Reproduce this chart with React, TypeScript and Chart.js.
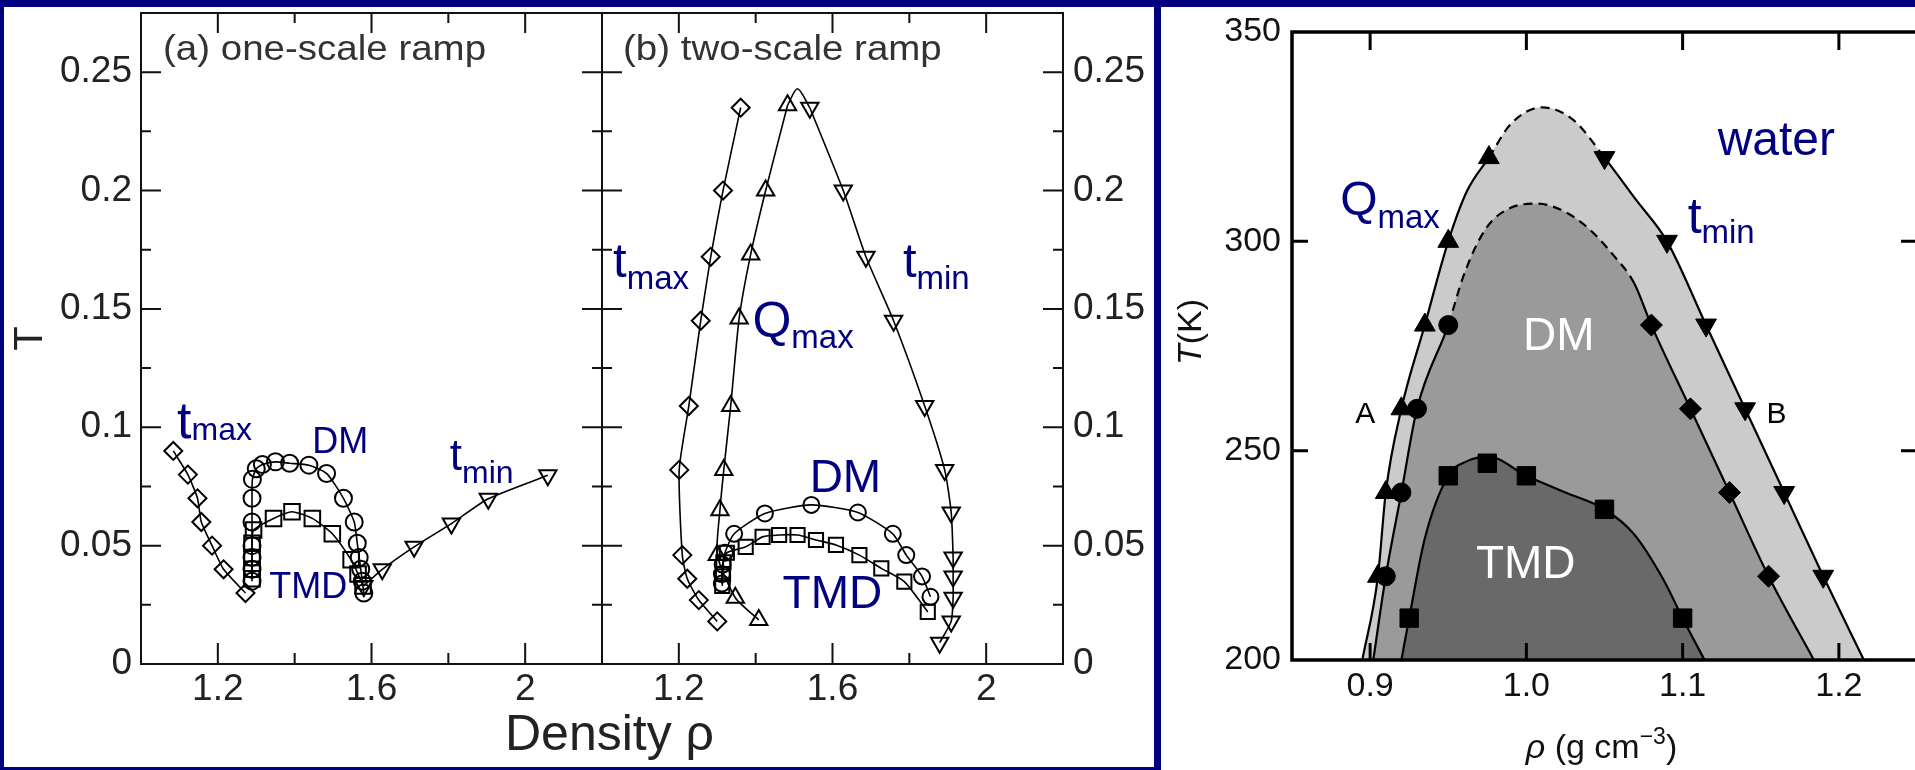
import React, { useEffect, useRef } from 'react';
import { Chart, registerables } from 'chart.js';
Chart.register(...registerables);

const NAVY = '#000080';
const FONT = "'Liberation Sans', Arial, Helvetica, sans-serif";
Chart.defaults.font.family = FONT;

// ---------- (a) one-scale ramp ----------
const A_TMAX_RHO = [1.084, 1.122, 1.147, 1.157, 1.185, 1.215, 1.272];
const A_TMAX_T = [0.090, 0.080, 0.070, 0.060, 0.050, 0.040, 0.030];
const A_TMIN_RHO = [1.580, 1.628, 1.711, 1.808, 1.904, 2.059];
const A_TMIN_T = [0.033, 0.040, 0.0495, 0.0593, 0.0698, 0.0797];
const A_DM_RHO = [1.289, 1.289, 1.289, 1.289, 1.289, 1.289, 1.290, 1.300, 1.316, 1.350, 1.387, 1.437, 1.483, 1.527, 1.555, 1.563, 1.568, 1.572, 1.576, 1.580];
const A_DM_T = [0.035, 0.040, 0.045, 0.050, 0.060, 0.070, 0.078, 0.0825, 0.0843, 0.0854, 0.0848, 0.0840, 0.0805, 0.070, 0.060, 0.051, 0.045, 0.040, 0.035, 0.030];
const A_TMD_RHO = [1.289, 1.289, 1.289, 1.289, 1.293, 1.345, 1.393, 1.446, 1.498, 1.547, 1.565, 1.578];
const A_TMD_T = [0.036, 0.040, 0.045, 0.051, 0.0566, 0.0615, 0.0643, 0.0615, 0.055, 0.044, 0.038, 0.033];

// ---------- (b) two-scale ramp ----------
const B_TMAX_RHO = [1.361, 1.315, 1.283, 1.257, 1.226, 1.201, 1.209, 1.222, 1.252, 1.300];
const B_TMAX_T = [0.235, 0.200, 0.172, 0.145, 0.109, 0.082, 0.046, 0.036, 0.027, 0.018];
const B_QMAX_RHO = [1.483, 1.426, 1.387, 1.357, 1.335, 1.317, 1.307, 1.300, 1.347, 1.408];
const B_QMAX_T = [0.236, 0.200, 0.173, 0.146, 0.109, 0.082, 0.065, 0.046, 0.028, 0.0186];
const B_TMIN_RHO = [1.541, 1.628, 1.687, 1.759, 1.840, 1.892, 1.909, 1.914, 1.914, 1.914, 1.909, 1.879];
const B_TMIN_T = [0.235, 0.200, 0.172, 0.145, 0.109, 0.082, 0.064, 0.045, 0.037, 0.028, 0.018, 0.009];
const B_PEAK_RHO = [1.483, 1.509, 1.541];
const B_PEAK_T = [0.236, 0.243, 0.235];
const B_DM_RHO = [1.312, 1.312, 1.314, 1.320, 1.344, 1.424, 1.545, 1.666, 1.757, 1.792, 1.833, 1.855];
const B_DM_T = [0.034, 0.038, 0.042, 0.047, 0.055, 0.0636, 0.0672, 0.064, 0.055, 0.046, 0.037, 0.0284];
const B_TMD_RHO = [1.313, 1.315, 1.316, 1.325, 1.374, 1.418, 1.461, 1.509, 1.557, 1.609, 1.670, 1.727, 1.787, 1.848];
const B_TMD_T = [0.033, 0.038, 0.043, 0.047, 0.0495, 0.0537, 0.0545, 0.0545, 0.0524, 0.0503, 0.046, 0.0404, 0.0348, 0.022];

const RAMP_X_TICKS = [1.2, 1.6, 2.0];
const RAMP_X_MINOR = [1.4, 1.8];
const RAMP_Y_TICKS = [0, 0.05, 0.1, 0.15, 0.2, 0.25];
const RAMP_Y_MINOR = [0.025, 0.075, 0.125, 0.175, 0.225];

// ---------- water ----------
const W_QMAX_RHO = [0.905, 0.910, 0.920, 0.935, 0.950, 0.976];
const W_QMAX_T = [220, 240, 260, 280, 300, 320];
const W_DML_RHO = [0.910, 0.920, 0.930, 0.950];
const W_DML_T = [220, 240, 260, 280];
const W_DMR_RHO = [1.155, 1.130, 1.105, 1.080];
const W_DMR_T = [220, 240, 260, 280];
const W_TMIN_RHO = [1.050, 1.090, 1.115, 1.140, 1.165, 1.190];
const W_TMIN_T = [320, 300, 280, 260, 240, 220];
const W_TMD_RHO = [0.925, 0.950, 0.975, 1.000, 1.050, 1.100];
const W_TMD_T = [210, 244, 247, 244, 236, 210];
const W_OUTER_RHO = [0.895, 0.905, 0.910, 0.920, 0.935, 0.950, 0.962, 0.976, 0.990, 1.010, 1.030, 1.050, 1.070, 1.090, 1.115, 1.140, 1.165, 1.190, 1.216];
const W_OUTER_T = [200, 220, 240, 260, 280, 300, 312, 320, 328, 332, 329, 320, 310, 300, 280, 260, 240, 220, 200];
const W_DMC_RHO = [0.902, 0.910, 0.920, 0.930, 0.950, 0.960, 0.974, 0.990, 1.007, 1.025, 1.040, 1.055, 1.069, 1.080, 1.105, 1.130, 1.155, 1.184];
const W_DMC_T = [200, 220, 240, 260, 280, 292, 303, 308, 309, 307, 303, 297, 290, 280, 260, 240, 220, 200];
const W_TMDC_RHO = [0.920, 0.925, 0.935, 0.950, 0.962, 0.976, 1.000, 1.025, 1.050, 1.069, 1.088, 1.100, 1.114];
const W_TMDC_T = [200, 210, 229, 244, 247.5, 248.5, 244, 240, 236, 230, 219, 210, 200];

const W_X_TICKS = [0.9, 1.0, 1.1, 1.2];
const W_Y_TICKS = [200, 250, 300, 350];
const W_Y_INNER = [250, 300];

// ---------- annotation styles / positions (data coords) ----------
type Lbl = { main: string; sub?: string; x: number; y: number; size: number; subSize?: number; subDy?: number; color: string };
const A_LABELS: Lbl[] = [
  { main: 't', sub: 'max', x: 1.094, y: 0.0954, size: 52, subSize: 32, subDy: 2, color: NAVY },
  { main: 'DM', x: 1.446, y: 0.0891, size: 36, color: NAVY },
  { main: 't', sub: 'min', x: 1.804, y: 0.0819, size: 44, subSize: 32, subDy: 13, color: NAVY },
  { main: 'TMD', x: 1.334, y: 0.0279, size: 36, color: NAVY },
];
const B_LABELS: Lbl[] = [
  { main: 't', sub: 'max', x: 1.0287, y: 0.1634, size: 49, subSize: 33, subDy: 12, color: NAVY },
  { main: 'Q', sub: 'max', x: 1.3916, y: 0.1381, size: 50, subSize: 33, subDy: 11, color: NAVY },
  { main: 't', sub: 'min', x: 1.7833, y: 0.1634, size: 49, subSize: 33, subDy: 12, color: NAVY },
  { main: 'DM', x: 1.5405, y: 0.0726, size: 46, color: NAVY },
  { main: 'TMD', x: 1.470, y: 0.0236, size: 46, color: NAVY },
];
const W_LABELS: Lbl[] = [
  { main: 'water', x: 1.1224, y: 320.6, size: 48, color: NAVY },
  { main: 'Q', sub: 'max', x: 0.8808, y: 306.3, size: 48, subSize: 33, subDy: 13, color: NAVY },
  { main: 't', sub: 'min', x: 1.1032, y: 302.0, size: 50, subSize: 33, subDy: 10, color: NAVY },
  { main: 'DM', x: 0.9978, y: 274.1, size: 46, color: '#ffffff' },
  { main: 'TMD', x: 0.9677, y: 219.6, size: 46, color: '#ffffff' },
  { main: 'A', x: 0.8904, y: 256.6, size: 30, color: '#000000' },
  { main: 'B', x: 1.1537, y: 256.6, size: 30, color: '#000000' },
];

const pts = (xs: number[], ys: number[]) => xs.map((x, i) => ({ x, y: ys[i] }));

function drawLabels(chart: any, list: Lbl[]) {
  const { ctx, scales } = chart;
  ctx.save();
  ctx.textBaseline = 'alphabetic';
  ctx.textAlign = 'left';
  for (const l of list) {
    const px = scales.x.getPixelForValue(l.x);
    const py = scales.y.getPixelForValue(l.y);
    ctx.fillStyle = l.color;
    ctx.font = `${l.size}px ${FONT}`;
    ctx.fillText(l.main, px, py);
    if (l.sub) {
      const w = ctx.measureText(l.main).width;
      ctx.font = `${l.subSize}px ${FONT}`;
      ctx.fillText(l.sub, px + w, py + (l.subDy || 0));
    }
  }
  ctx.restore();
}

function drawStretched(ctx: any, text: string, x: number, y: number, font: string, sx: number, color: string) {
  ctx.save();
  ctx.font = font;
  ctx.fillStyle = color;
  ctx.textBaseline = 'alphabetic';
  ctx.translate(x, y);
  ctx.scale(sx, 1);
  ctx.fillText(text, 0, 0);
  ctx.restore();
}

function rampFramePlugin(extra: (chart: any) => void) {
  return {
    id: 'rampFrame',
    afterDraw(chart: any) {
      const { ctx, chartArea: ca, scales } = chart;
      const xs = scales.x, ys = scales.y;
      ctx.save();
      ctx.strokeStyle = '#111';
      ctx.lineWidth = 2;
      ctx.strokeRect(ca.left, ca.top, ca.width, ca.height);
      ctx.beginPath();
      const seg = (x1: number, y1: number, x2: number, y2: number) => { ctx.moveTo(x1, y1); ctx.lineTo(x2, y2); };
      RAMP_X_TICKS.forEach(v => { const p = xs.getPixelForValue(v); seg(p, ca.bottom, p, ca.bottom - 21); seg(p, ca.top, p, ca.top + 20); });
      RAMP_X_MINOR.forEach(v => { const p = xs.getPixelForValue(v); seg(p, ca.bottom, p, ca.bottom - 11); seg(p, ca.top, p, ca.top + 10); });
      RAMP_Y_TICKS.forEach(v => { const p = ys.getPixelForValue(v); seg(ca.left, p, ca.left + 20, p); seg(ca.right, p, ca.right - 20, p); });
      RAMP_Y_MINOR.forEach(v => { const p = ys.getPixelForValue(v); seg(ca.left, p, ca.left + 10, p); seg(ca.right, p, ca.right - 10, p); });
      ctx.stroke();
      ctx.restore();
      extra(chart);
    },
  };
}

const openSeries = (data: any[], style: string, radius: number, rotation = 0) => ({
  data,
  showLine: true,
  tension: 0.2,
  borderColor: '#000',
  borderWidth: 1.6,
  pointStyle: style,
  pointRadius: radius,
  pointRotation: rotation,
  pointBorderColor: '#000',
  pointBorderWidth: 2,
  pointBackgroundColor: 'rgba(0,0,0,0)',
});

const noPadX = (h: number) => (s: any) => { s.height = h; s.paddingLeft = 0; s.paddingRight = 0; };
const noPadY = (w: number) => (s: any) => { s.width = w; s.paddingTop = 0; s.paddingBottom = 0; };

function rampScales(yPos: 'left' | 'right', yWidth: number) {
  return {
    x: {
      type: 'linear', min: 1.0, max: 2.2,
      afterBuildTicks: (s: any) => { s.ticks = RAMP_X_TICKS.map(v => ({ value: v })); },
      afterFit: noPadX(103),
      grid: { display: false, drawTicks: false }, border: { display: false },
      ticks: { font: { size: 37 }, color: '#222', padding: 4, callback: (v: any) => String(v), maxRotation: 0, autoSkip: false },
    },
    y: {
      type: 'linear', position: yPos, min: 0, max: 0.275,
      afterBuildTicks: (s: any) => { s.ticks = RAMP_Y_TICKS.map(v => ({ value: v })); },
      afterFit: noPadY(yWidth),
      grid: { display: false, drawTicks: false }, border: { display: false },
      ticks: { font: { size: 37 }, color: '#222', padding: yPos === 'left' ? 9 : 10, callback: (v: any) => String(v), autoSkip: false },
    },
  };
}

const baseOpts = {
  responsive: false,
  animation: false,
  events: [],
  plugins: { legend: { display: false }, tooltip: { enabled: false } },
};

export default function App() {
  const aRef = useRef<HTMLCanvasElement>(null);
  const bRef = useRef<HTMLCanvasElement>(null);
  const wRef = useRef<HTMLCanvasElement>(null);

  useEffect(() => {
    const chartA = new Chart(aRef.current as HTMLCanvasElement, {
      type: 'scatter',
      data: {
        datasets: [
          openSeries(pts(A_TMAX_RHO, A_TMAX_T), 'rectRot', 9),
          openSeries(pts(A_TMIN_RHO, A_TMIN_T), 'triangle', 10, 180),
          openSeries(pts(A_DM_RHO, A_DM_T), 'circle', 8.5),
          openSeries(pts(A_TMD_RHO, A_TMD_T), 'rect', 11),
        ] as any,
      },
      options: {
        ...baseOpts,
        layout: { autoPadding: false, padding: { top: 6, right: 552, left: 0, bottom: 0 } },
        scales: rampScales('left', 137) as any,
      } as any,
      plugins: [rampFramePlugin((chart: any) => {
        const { ctx, chartArea: ca } = chart;
        drawLabels(chart, A_LABELS);
        drawStretched(ctx, '(a) one-scale ramp', ca.left + 22, ca.top + 47, `35px ${FONT}`, 1.1, '#333');
        ctx.save();
        ctx.translate(27, (ca.top + ca.bottom) / 2);
        ctx.rotate(-Math.PI / 2);
        ctx.textAlign = 'center';
        ctx.textBaseline = 'middle';
        ctx.fillStyle = '#222';
        ctx.font = `40px ${FONT}`;
        ctx.fillText('T', 0, 0);
        ctx.restore();
      })],
    });

    const chartB = new Chart(bRef.current as HTMLCanvasElement, {
      type: 'scatter',
      data: {
        datasets: [
          { data: pts(B_PEAK_RHO, B_PEAK_T), showLine: true, tension: 0.3, borderColor: '#000', borderWidth: 1.6, pointRadius: 0 },
          openSeries(pts(B_TMAX_RHO, B_TMAX_T), 'rectRot', 9),
          openSeries(pts(B_QMAX_RHO, B_QMAX_T), 'triangle', 10),
          openSeries(pts(B_TMIN_RHO, B_TMIN_T), 'triangle', 10, 180),
          openSeries(pts(B_DM_RHO, B_DM_T), 'circle', 8),
          openSeries(pts(B_TMD_RHO, B_TMD_T), 'rect', 10),
        ] as any,
      },
      options: {
        ...baseOpts,
        layout: { autoPadding: false, padding: { top: 6, right: 0, left: 598, bottom: 0 } },
        scales: rampScales('right', 91) as any,
      } as any,
      plugins: [rampFramePlugin((chart: any) => {
        const { ctx, chartArea: ca } = chart;
        drawLabels(chart, B_LABELS);
        drawStretched(ctx, '(b) two-scale ramp', ca.left + 21, ca.top + 47, `35px ${FONT}`, 1.1, '#333');
        ctx.save();
        ctx.fillStyle = '#222';
        ctx.font = `50px ${FONT}`;
        ctx.textAlign = 'center';
        ctx.textBaseline = 'alphabetic';
        ctx.fillText('Density \u03c1', ca.left + 7.5, ca.bottom + 86);
        ctx.restore();
      })],
    });

    const dashSeg = (lo: number, hi: number) => ({
      borderDash: (c: any) => (c.p0.parsed.x >= lo - 1e-9 && c.p1.parsed.x <= hi + 1e-9 ? [9, 6] : undefined),
    });
    const area = (data: any[], fillColor: string, order: number) => ({
      type: 'line',
      data,
      order,
      borderWidth: 0,
      borderColor: 'rgba(0,0,0,0)',
      backgroundColor: fillColor,
      fill: 'start',
      pointRadius: 0,
      cubicInterpolationMode: 'monotone',
    });
    const edge = (data: any[], order: number, dash?: [number, number]) => ({
      type: 'line',
      data,
      order,
      borderColor: '#000',
      borderWidth: 2.2,
      fill: false,
      pointRadius: 0,
      cubicInterpolationMode: 'monotone',
      segment: dash ? dashSeg(dash[0], dash[1]) : undefined,
    });
    const solid = (data: any[], style: string, radius: number, rotation = 0) => ({
      type: 'scatter',
      data,
      order: 0,
      showLine: false,
      pointStyle: style,
      pointRadius: radius,
      pointRotation: rotation,
      pointBackgroundColor: '#000',
      pointBorderColor: '#000',
      pointBorderWidth: 1,
    });

    const outer = pts(W_OUTER_RHO, W_OUTER_T);
    const dmc = pts(W_DMC_RHO, W_DMC_T);
    const tmdc = pts(W_TMDC_RHO, W_TMDC_T);

    const chartW = new Chart(wRef.current as HTMLCanvasElement, {
      type: 'line',
      data: {
        datasets: [
          area(outer, '#cbcbcb', 7),
          edge(outer, 6, [0.976, 1.05]),
          area(dmc, '#9a9a9a', 5),
          edge(dmc, 4, [0.95, 1.069]),
          area(tmdc, '#696969', 3),
          edge(tmdc, 2),
          solid(pts(W_QMAX_RHO, W_QMAX_T), 'triangle', 12),
          solid(pts(W_TMIN_RHO, W_TMIN_T), 'triangle', 12, 180),
          solid(pts(W_DML_RHO, W_DML_T), 'circle', 9.5),
          solid(pts(W_DMR_RHO, W_DMR_T), 'rectRot', 11),
          solid(pts(W_TMD_RHO, W_TMD_T), 'rect', 13),
        ] as any,
      },
      options: {
        ...baseOpts,
        layout: { autoPadding: false, padding: { top: 25, right: 14, left: 0, bottom: 0 } },
        scales: {
          x: {
            type: 'linear', min: 0.85, max: 1.25,
            afterBuildTicks: (s: any) => { s.ticks = W_X_TICKS.map(v => ({ value: v })); },
            afterFit: noPadX(110),
            grid: { display: false, drawTicks: false }, border: { display: false },
            ticks: { font: { size: 34 }, color: '#111', padding: 6, callback: (v: any) => Number(v).toFixed(1), maxRotation: 0, autoSkip: false },
          },
          y: {
            type: 'linear', min: 200, max: 350,
            afterBuildTicks: (s: any) => { s.ticks = W_Y_TICKS.map(v => ({ value: v })); },
            afterFit: noPadY(131),
            grid: { display: false, drawTicks: false }, border: { display: false },
            ticks: { font: { size: 34 }, color: '#111', padding: 11, callback: (v: any) => String(v), autoSkip: false },
          },
        },
      } as any,
      plugins: [{
        id: 'waterFrame',
        afterDraw(chart: any) {
          const { ctx, chartArea: ca, scales } = chart;
          const xs = scales.x, ys = scales.y;
          ctx.save();
          ctx.strokeStyle = '#000';
          ctx.lineWidth = 3.5;
          ctx.strokeRect(ca.left, ca.top, ca.width, ca.height);
          ctx.lineWidth = 3;
          ctx.beginPath();
          W_X_TICKS.forEach(v => {
            const p = xs.getPixelForValue(v);
            ctx.moveTo(p, ca.top); ctx.lineTo(p, ca.top + 18);
            ctx.moveTo(p, ca.bottom); ctx.lineTo(p, ca.bottom - 17);
          });
          W_Y_INNER.forEach(v => {
            const p = ys.getPixelForValue(v);
            ctx.moveTo(ca.left, p); ctx.lineTo(ca.left + 16, p);
            ctx.moveTo(ca.right, p); ctx.lineTo(ca.right - 16, p);
          });
          ctx.stroke();
          ctx.restore();
          drawLabels(chart, W_LABELS);
          // y title T(K), rotated
          ctx.save();
          ctx.fillStyle = '#111';
          ctx.textBaseline = 'alphabetic';
          ctx.translate(29, (ca.top + ca.bottom) / 2 - 14);
          ctx.rotate(-Math.PI / 2);
          ctx.font = `italic 34px ${FONT}`;
          const wT = ctx.measureText('T').width;
          ctx.font = `34px ${FONT}`;
          const wK = ctx.measureText('(K)').width;
          const start = -(wT + wK) / 2;
          ctx.font = `italic 34px ${FONT}`;
          ctx.fillText('T', start, 11);
          ctx.font = `34px ${FONT}`;
          ctx.fillText('(K)', start + wT, 11);
          ctx.restore();
          // x title
          ctx.save();
          ctx.fillStyle = '#111';
          ctx.textBaseline = 'alphabetic';
          const parts = [
            { t: '\u03c1', f: `italic 34px ${FONT}`, dy: 0 },
            { t: ' (g cm', f: `34px ${FONT}`, dy: 0 },
            { t: '\u22123', f: `23px ${FONT}`, dy: -14 },
            { t: ')', f: `34px ${FONT}`, dy: 0 },
          ];
          let total = 0;
          parts.forEach(p => { ctx.font = p.f; total += ctx.measureText(p.t).width; });
          let x = (ca.left + ca.right) / 2 - 3 - total / 2;
          const base = ca.bottom + 98;
          parts.forEach(p => { ctx.font = p.f; ctx.fillText(p.t, x, base + p.dy); x += ctx.measureText(p.t).width; });
          ctx.restore();
        },
      }],
    });

    return () => { chartA.destroy(); chartB.destroy(); chartW.destroy(); };
  }, []);

  return (
    <div style={{ position: 'absolute', left: 0, top: 0, width: 1915, height: 770, overflow: 'hidden', background: '#000080' }}>
      <div style={{ position: 'absolute', left: 4, top: 7, width: 1150, height: 760, background: '#ffffff' }}>
        <canvas ref={aRef} width={1150} height={760} style={{ position: 'absolute', left: 0, top: 0 }} />
        <canvas ref={bRef} width={1150} height={760} style={{ position: 'absolute', left: 0, top: 0 }} />
      </div>
      <div style={{ position: 'absolute', left: 1161, top: 7, width: 754, height: 763, background: '#ffffff', overflow: 'hidden' }}>
        <canvas ref={wRef} width={770} height={763} style={{ position: 'absolute', left: 0, top: 0 }} />
      </div>
    </div>
  );
}
